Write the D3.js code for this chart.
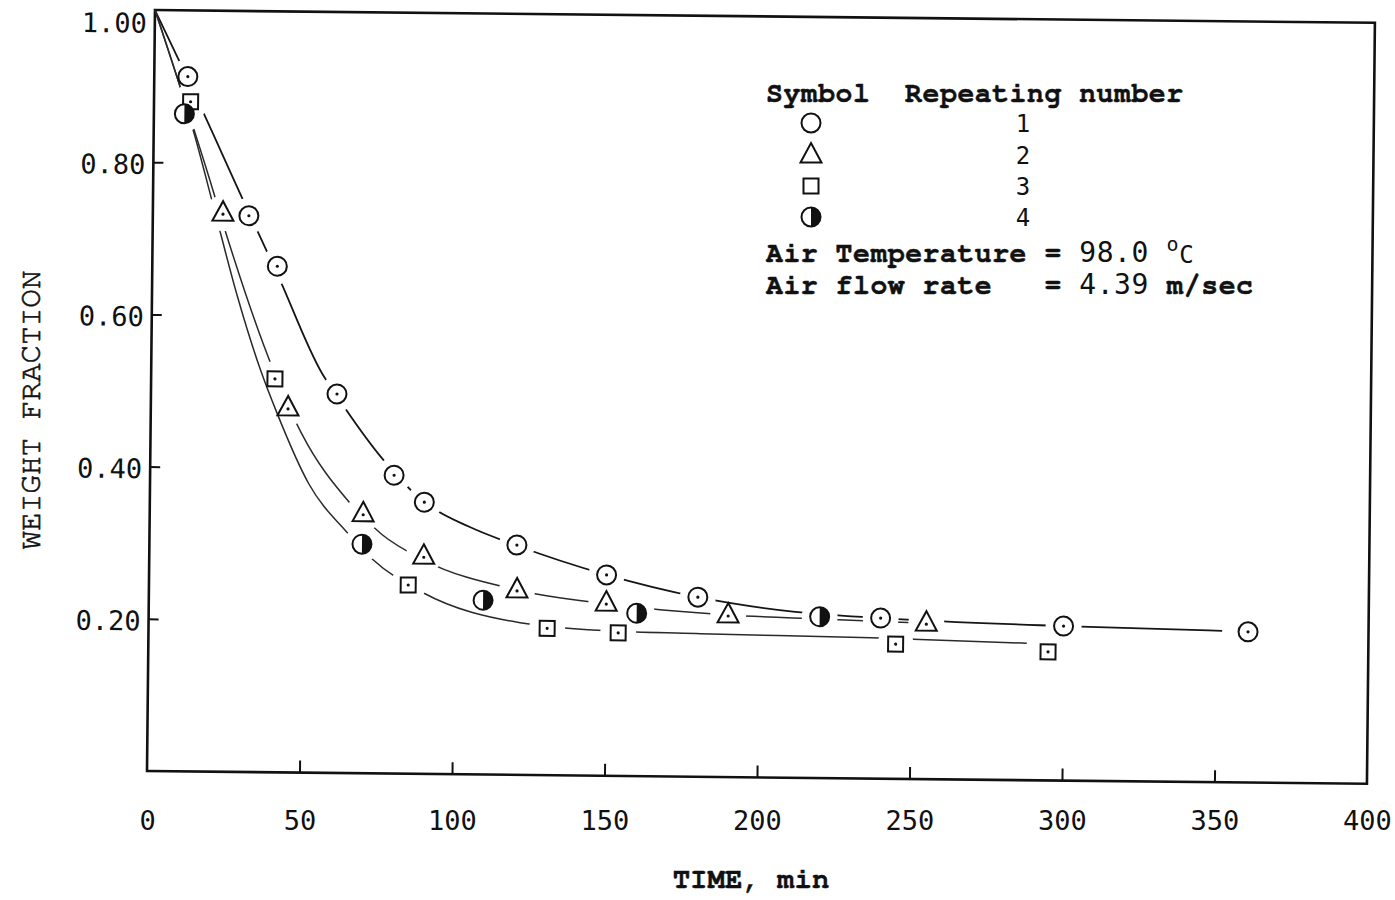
<!DOCTYPE html>
<html><head><meta charset="utf-8">
<script src="https://cdn.jsdelivr.net/npm/d3@7"></script>
<style>body{margin:0;background:#fff}</style>
</head><body>
<svg id="c" width="1395" height="900"></svg>
<script>
// ---- axis ticks ----
const xTicks = [0,50,100,150,200,250,300,350,400];
const xTickLabels = ["0","50","100","150","200","250","300","350","400"];
const yTicks = [0.2,0.4,0.6,0.8,1.0];
const yTickLabels = ["0.20","0.40","0.60","0.80","1.00"];

// ---- measured points [time (min), weight fraction] ----
const run1 = [[11,0.913],[31.5,0.731],[41,0.665],[61,0.498],[80,0.392],[90,0.357],[120.5,0.302],[150,0.264],[180,0.236],[240,0.211],[300,0.203],[360.5,0.198]];
const run2 = [[23,0.734],[45,0.479],[70,0.341],[90,0.286],[120.7,0.243],[150,0.227],[190,0.213],[255,0.205]];
const run3 = [[12,0.880],[40.6,0.517],[85,0.248],[130.7,0.193],[154,0.188],[245,0.177],[295,0.169]];
const run4 = [[10,0.864],[69.7,0.301],[109.6,0.229],[160,0.214],[220,0.212]];

// ---- hand-drawn fitted curves ----
const curve1 = [[0,1.0],[11,0.91],[31.5,0.735],[41,0.655],[56,0.525],[61,0.495],[76,0.414],[90,0.357],[105,0.325],[120,0.302],[150,0.264],[180,0.236],[212,0.218],[240,0.211],[300,0.203],[352,0.199]];
const curve2 = [[0,1.0],[18.6,0.777],[23.7,0.712],[39.6,0.533],[49.6,0.445],[65.6,0.355],[76.2,0.314],[90,0.281],[120.7,0.243],[150,0.226],[190,0.213],[220,0.209],[255,0.205]];
const curve3 = [[0,1.0],[13.5,0.835],[20.4,0.735],[28,0.625],[35.7,0.53],[41.4,0.472],[52,0.38],[64.8,0.316],[73,0.282],[89.9,0.238],[121.8,0.200],[154,0.190],[181,0.188],[237,0.185],[288,0.180]];

// ---- legend ----
const legendSymbols = ["circle","triangle","square","half"];
const legendNumbers = ["1","2","3","4"];
const legendHeader = "Symbol  Repeating number";
const tempLabel = "Air Temperature = ", tempValue = "98.0", tempUnit = "C";
const flowLabel = "Air flow rate   = ", flowValue = "4.39", flowUnit = " m/sec";
const xTitle = "TIME, min", yTitle = "WEIGHT FRACTION";

const INK = "#111";
const MONO = "'Nimbus Mono PS', 'Nimbus Mono L', 'FreeMono', 'Courier New', 'Liberation Mono', monospace";
const DIG = "'DejaVu Sans Mono', monospace";

const svg = d3.select("#c");
svg.append("rect").attr("width",1395).attr("height",900).attr("fill","#fff");

const x = d3.scaleLinear().domain([0,400]).range([147,1367]);
const y = d3.scaleLinear().domain([0,1]).range([771,10]);

const plot = svg.append("g").attr("transform",`rotate(0.6 ${x(0)} ${y(0)})`);
const defs = svg.append("defs");

// frame
plot.append("rect").attr("x",x(0)).attr("y",y(1))
  .attr("width",x(400)-x(0)).attr("height",y(0)-y(1))
  .attr("fill","none").attr("stroke",INK).attr("stroke-width",2.6);

// x ticks (inward)
plot.append("g").attr("transform",`translate(0,${y(0)})`)
  .call(d3.axisBottom(x).tickValues(xTicks.slice(1,-1)).tickSize(-12).tickFormat(""))
  .call(g=>g.select(".domain").remove())
  .call(g=>g.selectAll("line").attr("stroke",INK).attr("stroke-width",2));

// y ticks (inward)
plot.append("g").attr("transform",`translate(${x(0)},0)`)
  .call(d3.axisRight(y).tickValues(yTicks.slice(0,-1)).tickSize(10).tickFormat(""))
  .call(g=>g.select(".domain").remove())
  .call(g=>g.selectAll("line").attr("stroke",INK).attr("stroke-width",2));

// y labels
plot.selectAll(".ylab").data(yTicks).join("text")
  .attr("x",x(0)-8).attr("y",d=>y(d) + (d===1 ? 13 : 2))
  .attr("dy","0.36em").attr("text-anchor","end")
  .attr("font-family",DIG).attr("font-size",27).attr("fill",INK)
  .text((d,i)=>yTickLabels[i]);

// x labels
svg.append("g").attr("transform",`translate(0,${y(0)})`)
  .call(d3.axisBottom(x).tickValues(xTicks).tickSize(0).tickPadding(40).tickFormat((d,i)=>xTickLabels[i]))
  .call(g=>g.select(".domain").remove())
  .call(g=>g.selectAll("text").attr("font-family",DIG).attr("font-size",27).attr("fill",INK));

// axis titles
svg.append("text").attr("x",751).attr("y",888).attr("text-anchor","middle")
  .attr("font-family",MONO).attr("font-weight","bold").attr("font-size",29).attr("fill",INK)
  .attr("stroke",INK).attr("stroke-width",0.4).text(xTitle);
svg.append("text").attr("transform","translate(40,410) rotate(-90)").attr("text-anchor","middle")
  .attr("font-family",MONO).attr("font-size",31).attr("fill",INK)
  .attr("stroke",INK).attr("stroke-width",0.6).text(yTitle);

// ---- curves with gaps around their own markers ----
const line = d3.line().x(d=>x(d[0])).y(d=>y(d[1])).curve(d3.curveMonotoneX);
const allMarkers = [].concat(run1,run2,run3,run4);
[curve1,curve2,curve3].forEach((c,i)=>{
  const p = plot.append("path").attr("d",line(c)).attr("fill","none")
    .attr("stroke", i===0 ? "#151515" : "#2a2a2a").attr("stroke-width", i===0 ? 1.8 : 1.5);
  const node = p.node(), L = node.getTotalLength();
  const pts = d3.range(0, L, 2).map(l=>node.getPointAtLength(l));
  const mask = defs.append("mask").attr("id","m"+i).attr("maskUnits","userSpaceOnUse")
    .attr("x",-200).attr("y",-200).attr("width",1800).attr("height",1300);
  mask.append("rect").attr("x",-200).attr("y",-200).attr("width",1800).attr("height",1300).attr("fill","#fff");
  allMarkers.forEach(m=>{
    const mx = x(m[0]), my = y(m[1]);
    const dmin = d3.min(pts, q=>Math.hypot(q.x-mx, q.y-my));
    if (dmin < 9) mask.append("circle").attr("cx",mx).attr("cy",my).attr("r",18).attr("fill","#000");
  });
  p.attr("mask",`url(#m${i})`);
});

// ---- markers ----
function marker(g, type, cx, cy, dot){
  const s = {stroke:INK, "stroke-width":2};
  if (type==="circle" || type==="half"){
    const c = g.append("circle").attr("cx",cx).attr("cy",cy).attr("r",9.5).attr("fill","#fff");
    Object.entries(s).forEach(([k,v])=>c.attr(k,v));
    if (type==="half"){
      g.append("path").attr("d",`M${cx},${cy-9.5} A9.5,9.5 0 0 1 ${cx},${cy+9.5} Z`).attr("fill",INK);
    }
  } else if (type==="triangle"){
    const t = g.append("path").attr("d",`M${cx},${cy-12} L${cx+10.5},${cy+7.5} L${cx-10.5},${cy+7.5} Z`)
      .attr("fill","#fff").attr("stroke-linejoin","miter");
    Object.entries(s).forEach(([k,v])=>t.attr(k,v));
  } else if (type==="square"){
    const r = g.append("rect").attr("x",cx-7.5).attr("y",cy-7.5).attr("width",15).attr("height",15).attr("fill","#fff");
    Object.entries(s).forEach(([k,v])=>r.attr(k,v));
  }
  if (dot && type!=="half") g.append("circle").attr("cx",cx).attr("cy",cy + (type==="triangle"?1:0)).attr("r",1.6).attr("fill",INK);
}
const mg = plot.append("g");
[[run1,"circle"],[run2,"triangle"],[run3,"square"],[run4,"half"]].forEach(([data,type])=>{
  data.forEach(d=>marker(mg,type,x(d[0]),y(d[1]),true));
});

// ---- legend ----
const lg = svg.append("g");
const LFS = 28, LSP = 17.4 - 0.6*LFS;   // keep 17.4px character pitch
function legendText(yy){
  return lg.append("text").attr("x",766).attr("y",yy).style("white-space","pre")
    .attr("letter-spacing",LSP).attr("font-family",MONO).attr("font-weight","bold")
    .attr("font-size",LFS).attr("fill",INK).attr("stroke",INK).attr("stroke-width",0.5);
}
legendText(102).text(legendHeader);
const rowY = [123,155,186,217];
legendSymbols.forEach((t,i)=>{
  marker(lg,t,811,rowY[i],false);
  lg.append("text").attr("x",1023).attr("y",rowY[i]+9).attr("text-anchor","middle")
    .attr("font-family",DIG).attr("font-size",24).attr("fill",INK).text(legendNumbers[i]);
});
const t1 = legendText(262);
t1.append("tspan").text(tempLabel);
t1.append("tspan").attr("font-family",DIG).attr("font-weight","normal").attr("stroke-width",0).text(tempValue + " ");
t1.append("tspan").attr("font-family",DIG).attr("font-weight","normal").attr("stroke-width",0).attr("font-size",20).attr("dy",-11).text("o");
t1.append("tspan").attr("font-family",DIG).attr("font-weight","normal").attr("stroke-width",0).attr("font-size",24).attr("dy",12).text(tempUnit);
const t2 = legendText(294);
t2.append("tspan").text(flowLabel);
t2.append("tspan").attr("font-family",DIG).attr("font-weight","normal").attr("stroke-width",0).text(flowValue);
t2.append("tspan").text(flowUnit);
</script>
</body></html>
